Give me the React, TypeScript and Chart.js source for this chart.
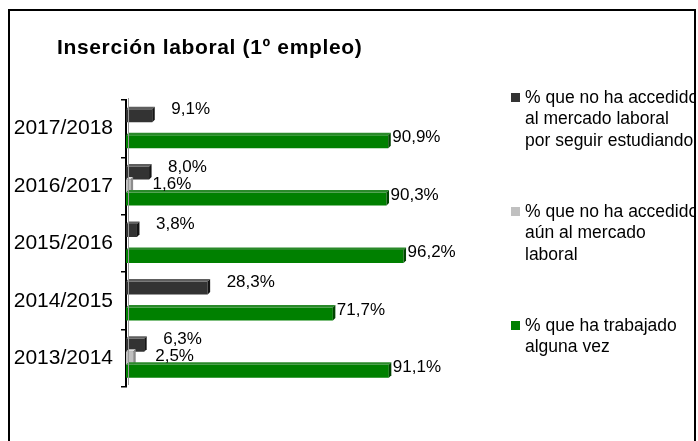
import React, { useEffect, useRef } from 'react';
import { Chart, registerables } from 'chart.js';

Chart.register(...registerables);

const categories = ['2017/2018', '2016/2017', '2015/2016', '2014/2015', '2013/2014'];
const studyingValues = [9.1, 8.0, 3.8, 28.3, 6.3];
const notYetValues: (number | null)[] = [null, 1.6, null, null, 2.5];
const workedValues = [90.9, 90.3, 96.2, 71.7, 91.1];
const seriesNames = [
  ['% que no ha accedido', 'al mercado laboral', 'por seguir estudiando'],
  ['% que no ha accedido', 'aún al mercado', 'laboral'],
  ['% que ha trabajado', 'alguna vez'],
];
const titleText = 'Inserción laboral (1º empleo)';
const xMin = 0;
const xMax = 100;

const FONT = '"Liberation Sans", Arial, sans-serif';
const colors = ['#333333', '#c0c0c0', '#008000'];
const topColors = ['#5e5e5e', '#dcdcdc', '#2a8a2a'];
const sideColors = ['#141414', '#8c8c8c', '#004400'];
const labelOffsets = [
  { dx: 19, dy: -6 },
  { dx: 22, dy: -2 },
  { dx: 4, dy: -4 },
];

const fmt = (v: number) => v.toFixed(1).replace('.', ',') + '%';

const bar3dPlugin = {
  id: 'bar3d',
  afterDatasetsDraw(chart: any) {
    const ctx = chart.ctx;
    const d = 2.5;
    ctx.save();
    chart.data.datasets.forEach((ds: any, di: number) => {
      const meta = chart.getDatasetMeta(di);
      meta.data.forEach((bar: any, i: number) => {
        if (ds.data[i] == null) return;
        const x1 = bar.x;
        const x0 = bar.base;
        const top = bar.y - bar.height / 2;
        const bottom = bar.y + bar.height / 2;
        ctx.fillStyle = topColors[di];
        ctx.beginPath();
        ctx.moveTo(x0, top);
        ctx.lineTo(x1, top);
        ctx.lineTo(x1 + d, top - d);
        ctx.lineTo(x0 + d, top - d);
        ctx.closePath();
        ctx.fill();
        ctx.fillStyle = sideColors[di];
        ctx.beginPath();
        ctx.moveTo(x1, top);
        ctx.lineTo(x1 + d, top - d);
        ctx.lineTo(x1 + d, bottom - d);
        ctx.lineTo(x1, bottom);
        ctx.closePath();
        ctx.fill();
      });
    });
    const a = chart.chartArea;
    ctx.strokeStyle = '#9a9a9a';
    ctx.lineWidth = 1;
    ctx.beginPath();
    ctx.moveTo(a.left + 2.5, a.top - 2);
    ctx.lineTo(a.left + 2.5, a.bottom - 2);
    ctx.stroke();
    ctx.restore();
  },
};

const labelPlugin = {
  id: 'barLabels',
  afterDatasetsDraw(chart: any) {
    const ctx = chart.ctx;
    ctx.save();
    ctx.font = '17px ' + FONT;
    ctx.fillStyle = '#000';
    ctx.textBaseline = 'middle';
    ctx.textAlign = 'left';
    chart.data.datasets.forEach((ds: any, di: number) => {
      const meta = chart.getDatasetMeta(di);
      const off = labelOffsets[di];
      meta.data.forEach((bar: any, i: number) => {
        const v = ds.data[i];
        if (v == null) return;
        ctx.fillText(fmt(v), bar.x + off.dx, bar.y + off.dy);
      });
    });
    ctx.restore();
  },
};

const decorPlugin = {
  id: 'decor',
  afterDraw(chart: any) {
    const ctx = chart.ctx;
    ctx.save();
    ctx.font = 'bold 21px ' + FONT;
    (ctx as any).letterSpacing = '0.65px';
    ctx.fillStyle = '#000';
    ctx.textBaseline = 'middle';
    ctx.textAlign = 'left';
    ctx.fillText(titleText, 57, 48);
    (ctx as any).letterSpacing = '0px';
    ctx.font = '17.5px ' + FONT;
    const starts = [98, 212, 326];
    const lh = 21.5;
    chart.data.datasets.forEach((ds: any, di: number) => {
      const y0 = starts[di];
      ctx.fillStyle = colors[di];
      ctx.fillRect(511, y0 - 5, 9, 9);
      ctx.fillStyle = '#000';
      (ds.legendLines as string[]).forEach((line, li) => {
        ctx.fillText(line, 525, y0 + li * lh);
      });
    });
    ctx.fillStyle = '#fff';
    ctx.fillRect(696, 0, 2, 441);
    ctx.fillStyle = '#000';
    ctx.fillRect(8, 9, 688, 2);
    ctx.fillRect(8, 9, 2, 440);
    ctx.fillRect(694, 9, 2, 440);
    ctx.restore();
  },
};

export default function App() {
  const ref = useRef<HTMLCanvasElement>(null);
  useEffect(() => {
    if (!ref.current) return;
    const chart = new Chart(ref.current, {
      type: 'bar',
      data: {
        labels: categories,
        datasets: [
          { label: seriesNames[0].join(' '), legendLines: seriesNames[0], data: studyingValues, backgroundColor: colors[0] } as any,
          { label: seriesNames[1].join(' '), legendLines: seriesNames[1], data: notYetValues, backgroundColor: colors[1] } as any,
          { label: seriesNames[2].join(' '), legendLines: seriesNames[2], data: workedValues, backgroundColor: colors[2] } as any,
        ],
      },
      options: {
        indexAxis: 'y',
        responsive: false,
        animation: false,
        datasets: { bar: { barPercentage: 1, categoryPercentage: 0.68 } },
        layout: { padding: { left: 0, right: 283.5, top: 100, bottom: 54 } },
        plugins: {
          legend: { display: false },
          title: { display: false },
          tooltip: { enabled: false },
        },
        scales: {
          x: { display: false, min: xMin, max: xMax },
          y: {
            afterFit: (s: any) => { s.width = 126; },
            grid: {
              display: true,
              drawOnChartArea: false,
              drawTicks: true,
              tickLength: 5,
              color: '#000',
              lineWidth: 1.5,
              offset: true,
            },
            border: { display: true, color: '#000', width: 2 },
            ticks: {
              color: '#000',
              font: { family: FONT, size: 21 },
              padding: 8,
            },
          },
        },
      },
      plugins: [bar3dPlugin, labelPlugin, decorPlugin],
    });
    return () => chart.destroy();
  }, []);
  return (
    <div style={{ position: 'fixed', left: 0, top: 0, width: 698, height: 441, background: '#fff' }}>
      <canvas ref={ref} width={698} height={441} style={{ display: 'block' }} />
    </div>
  );
}
